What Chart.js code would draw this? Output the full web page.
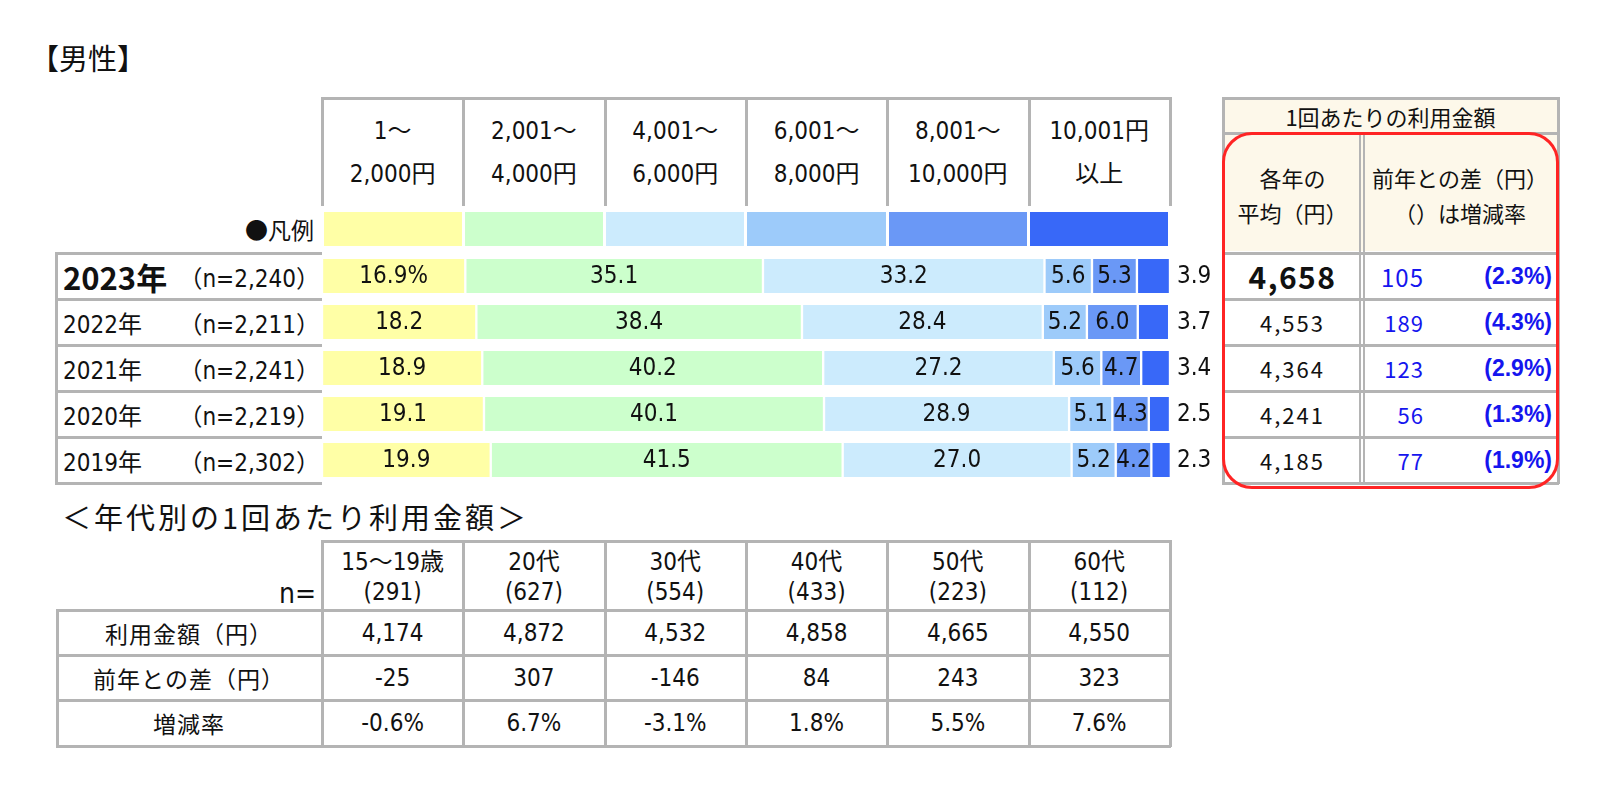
<!DOCTYPE html>
<html lang="ja">
<head>
<meta charset="utf-8">
<script src="https://cdn.jsdelivr.net/npm/chart.js@4.4.0/dist/chart.umd.min.js"></script>
<style>
  body { margin:0; width:1600px; height:788px; background:#fff; position:relative; overflow:hidden;
         font-family:'Noto Sans CJK JP',sans-serif; color:#111; }
  .a { position:absolute; white-space:nowrap; }
  .nar { font-family:'Liberation Sans Narrow','DejaVu Sans Condensed','Noto Sans CJK JP',sans-serif; }
  .c { display:flex; align-items:center; justify-content:center; }
</style>
</head>
<body>
<div class="a" style="left:30px;top:36px;font-size:29px;">【男性】</div>
<div id="root"></div>
<div class="a" style="left:322px;top:253px;width:900px;height:230px;">
  <canvas id="bars" width="900" height="230"></canvas>
</div>
<script>
// --- data ---
const years      = ['2023年', '2022年', '2021年', '2020年', '2019年'];
const sampleN    = ['2,240', '2,211', '2,241', '2,219', '2,302'];
const rangeTop   = ['1～', '2,001～', '4,001～', '6,001～', '8,001～', '10,001円'];
const rangeBot   = ['2,000円', '4,000円', '6,000円', '8,000円', '10,000円', '以上'];
const seg1 = [16.9, 18.2, 18.9, 19.1, 19.9];
const seg2 = [35.1, 38.4, 40.2, 40.1, 41.5];
const seg3 = [33.2, 28.4, 27.2, 28.9, 27.0];
const seg4 = [5.6, 5.2, 5.6, 5.1, 5.2];
const seg5 = [5.3, 6.0, 4.7, 4.3, 4.2];
const seg6 = [3.9, 3.7, 3.4, 2.5, 2.3];
const segColors = ['#FFFFA6', '#CCFFCC', '#CCEBFD', '#9DCBFA', '#6A98F6', '#3868F8'];

const avgYen   = ['4,658', '4,553', '4,364', '4,241', '4,185'];
const diffYen  = ['105', '189', '123', '56', '77'];
const diffRate = ['(2.3%)', '(4.3%)', '(2.9%)', '(1.3%)', '(1.9%)'];

const ageGroups = ['15～19歳', '20代', '30代', '40代', '50代', '60代'];
const ageN      = ['(291)', '(627)', '(554)', '(433)', '(223)', '(112)'];
const ageRows   = ['利用金額（円）', '前年との差（円）', '増減率'];
const ageAmount = ['4,174', '4,872', '4,532', '4,858', '4,665', '4,550'];
const ageDiff   = ['-25', '307', '-146', '84', '243', '323'];
const ageRate   = ['-0.6%', '6.7%', '-3.1%', '1.8%', '5.5%', '7.6%'];

// --- layout helpers ---
const X0 = 322, COLW = 141.3;
const root = document.getElementById('root');
function box(l, t, w, h, html, cls = '', style = '') {
  const d = document.createElement('div');
  d.className = 'a ' + cls;
  d.style.cssText = `left:${l}px;top:${t}px;width:${w}px;height:${h}px;${style}`;
  d.innerHTML = html;
  root.appendChild(d);
  return d;
}
function line(l, t, w, h, color) {
  return box(l, t, w, h, '', '', 'background:' + (color || '#b4b4b4'));
}

// top header (price ranges)
line(X0 - 1, 97, COLW * 6 + 2, 3);
for (let i = 0; i <= 6; i++) line(X0 + i * COLW - 1, 97, 3, 109);
rangeTop.forEach((t, i) => {
  box(X0 + i * COLW, 110, COLW, 36, t, 'c nar', 'font-size:24px;');
  box(X0 + i * COLW, 153, COLW, 36, rangeBot[i], 'c nar', 'font-size:24px;');
  box(X0 + i * COLW + 1.5, 212, COLW - 3, 34, '', '', 'background:' + segColors[i]);
});
box(190, 212, 124, 34, '●凡例', 'c', 'justify-content:flex-end;font-size:23px;');

// left year labels
const ROW0 = 253, ROWH = 46;
line(55, ROW0 - 1, 3, ROWH * 5 + 3);
for (let r = 0; r <= 5; r++) line(55, ROW0 + r * ROWH - 1, X0 - 55, 3);
years.forEach((y, r) => {
  const top = ROW0 + r * ROWH;
  if (r === 0) {
    box(63, top, 130, ROWH, y, 'c', 'justify-content:flex-start;font-size:31px;font-weight:bold;');
  } else {
    box(63, top, 120, ROWH, y, 'c nar', 'justify-content:flex-start;font-size:24px;');
  }
  box(170, top, 150, ROWH, '（n=' + sampleN[r] + '）', 'c nar', 'justify-content:flex-end;font-size:24px;');
});

// right summary table
const RL = 1223, RM = 1362, RR = 1558;
box(RL, 98, RR - RL, 153, '', '', 'background:#FDF8EA');
line(RL - 1, 97, RR - RL + 2, 3);
line(RL - 1, 132, RR - RL + 2, 3);
line(RL - 1, 97, 3, 387);
line(RR - 1, 97, 3, 387);
line(RM - 3, 132, 2, 352);
line(RM + 1, 132, 2, 352);
for (let r = 0; r <= 5; r++) line(RL - 1, ROW0 + r * ROWH - 1, RR - RL + 2, 3);
box(RL, 98, RR - RL, 35, '1回あたりの利用金額', 'c', 'font-size:22px;');
box(RL, 160, RM - RL, 34, '各年の', 'c', 'font-size:22px;');
box(RL, 195, RM - RL, 34, '平均（円）', 'c', 'font-size:22px;');
box(RM, 160, RR - RM, 34, '前年との差（円）', 'c', 'font-size:22px;');
box(RM, 195, RR - RM, 34, '（）は増減率', 'c', 'font-size:22px;');
avgYen.forEach((v, r) => {
  const top = ROW0 + r * ROWH;
  const big = r === 0;
  box(RL, top, RM - RL, ROWH, v, 'c',
      big ? 'font-size:30px;font-weight:bold;letter-spacing:1.5px;' : 'font-size:22px;letter-spacing:2px;');
  box(RM, top, 62, ROWH, diffYen[r], 'c',
      'justify-content:flex-end;color:#1515EE;letter-spacing:1px;font-size:' + (big ? '24px' : '22px'));
  box(RM + 60, top, RR - RM - 66, ROWH, diffRate[r], 'c',
      "justify-content:flex-end;color:#1515EE;font-weight:bold;font-family:'Liberation Sans',sans-serif;font-size:23px;");
});
box(RL - 1, 132, RR - RL + 2, 357, '', '', 'border:3px solid #FF2424;border-radius:30px;box-sizing:border-box;');

// bottom: per-age table
box(62, 495, 700, 42, '＜年代別の1回あたり利用金額＞', 'c', 'justify-content:flex-start;font-size:29px;letter-spacing:3px;');
const BT = 541, BR = [610, 655, 700, 746];
line(X0 - 1, BT - 1, COLW * 6 + 2, 3);
BR.forEach(y => line(56, y - 1, X0 + COLW * 6 - 55, 3));
line(56, BR[0] - 1, 3, BR[3] - BR[0] + 2);
for (let i = 0; i <= 6; i++) line(X0 + i * COLW - 1, BT - 1, 3, BR[3] - BT + 2);
box(190, 575, 126, 36, 'n=', 'c nar', 'justify-content:flex-end;font-size:28px;');
ageGroups.forEach((g, i) => {
  box(X0 + i * COLW, 543, COLW, 32, g, 'c nar', 'font-size:24px;');
  box(X0 + i * COLW, 576, COLW, 32, ageN[i], 'c nar', 'font-size:24px;');
  [ageAmount, ageDiff, ageRate].forEach((arr, r) => {
    box(X0 + i * COLW, BR[r], COLW, BR[r + 1] - BR[r], arr[i], 'c nar', 'font-size:24px;');
  });
});
ageRows.forEach((t, r) => box(56, BR[r], X0 - 56, BR[r + 1] - BR[r], t, 'c', 'font-size:23px;letter-spacing:1px;'));

// --- stacked bar chart ---
const segs = [seg1, seg2, seg3, seg4, seg5, seg6];
const NARROW = "'Liberation Sans Narrow','DejaVu Sans Condensed',sans-serif";

const barLabels = {
  id: 'barLabels',
  afterDatasetsDraw(chart) {
    const ctx = chart.ctx;
    ctx.save();
    ctx.font = '24px ' + NARROW;
    ctx.fillStyle = '#111';
    ctx.textBaseline = 'middle';
    chart.data.datasets.forEach((ds, di) => {
      chart.getDatasetMeta(di).data.forEach((bar, i) => {
        let txt = ds.data[i].toFixed(1);
        if (di === 0 && i === 0) txt += '%';
        if (di === segs.length - 1) {
          ctx.textAlign = 'left';
          ctx.fillText(txt, chart.chartArea.right + 7, bar.y + 1);
        } else {
          ctx.textAlign = 'center';
          ctx.fillText(txt, (bar.x + bar.base) / 2, bar.y + 1);
        }
      });
    });
    ctx.restore();
  },
};

new Chart(document.getElementById('bars'), {
  type: 'bar',
  data: {
    labels: years,
    datasets: segs.map((d, i) => ({
      label: rangeTop[i] + rangeBot[i],
      data: d,
      backgroundColor: segColors[i],
      borderColor: '#fff',
      borderWidth: { left: 1.5, right: 1.5, top: 0, bottom: 0 },
      borderSkipped: false,
      barThickness: 34,
    })),
  },
  options: {
    indexAxis: 'y',
    responsive: false,
    animation: false,
    layout: { padding: { left: 0, right: 52, top: 0, bottom: 0 } },
    plugins: { legend: { display: false }, tooltip: { enabled: false } },
    scales: {
      x: { stacked: true, min: 0, max: 100, display: false },
      y: { stacked: true, display: false },
    },
  },
  plugins: [barLabels],
});
</script>
</body>
</html>
